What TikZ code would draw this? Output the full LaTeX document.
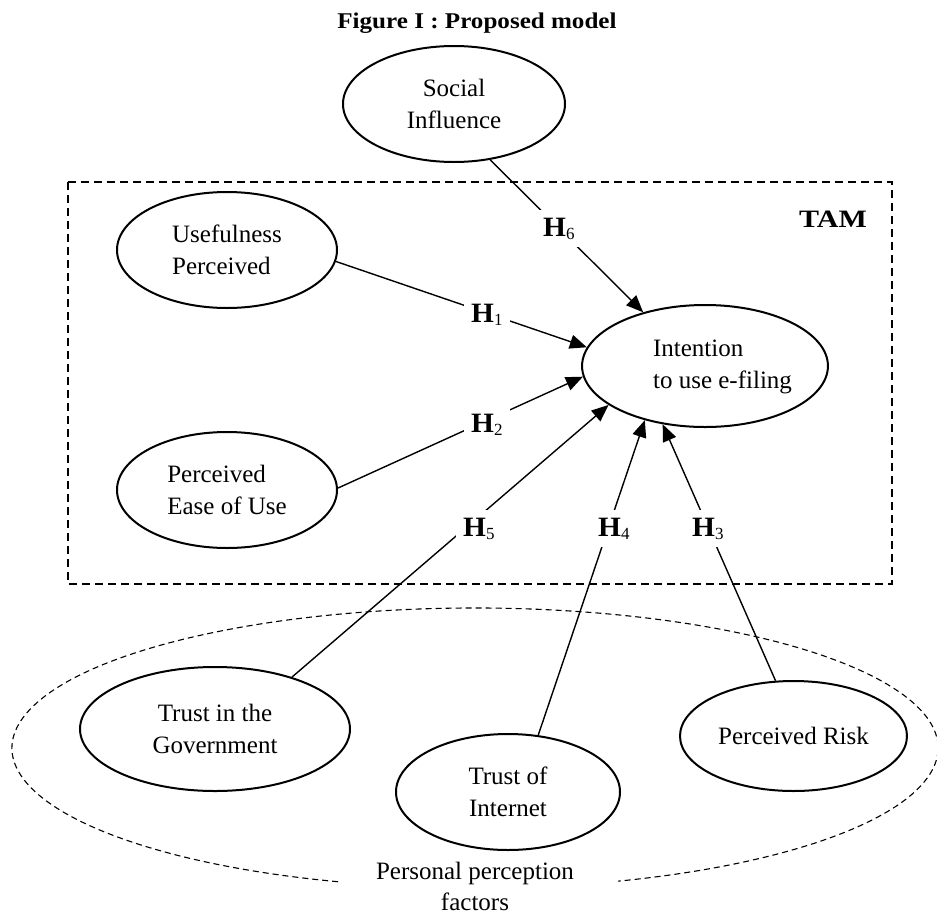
\documentclass[tikz,border=0pt]{standalone}
\usepackage{fontspec}
\setmainfont{Liberation Serif}
\usepackage{graphicx}
\usetikzlibrary{arrows.meta,shapes.geometric}
\newcommand\hyplab[1]{\scalebox{1.05}[1]{\bfseries H}\raisebox{-3pt}{\fontsize{17}{17}\selectfont #1}}
\begin{document}
\begin{tikzpicture}[x=1pt,y=-1pt,
  construct/.style={draw, line width=2pt, ellipse, inner sep=0pt, font=\fontsize{25}{32}\selectfont},
  link/.style={line width=1.4pt},
  arrowlink/.style={link, -{Triangle[length=17pt,width=14pt]}},
  hlab/.style={fill=white, inner xsep=7pt, inner ysep=8pt, anchor=base west, xshift=-7pt, font=\fontsize{28}{32}\selectfont},
  boxdash/.style={line width=1.4pt, dash pattern=on 8pt off 5pt},
  ovaldash/.style={line width=1.1pt, dash pattern=on 6pt off 4pt},
]
\useasboundingbox (0,0) rectangle (937,916);

% title
\node[anchor=base, font=\fontsize{22.5}{27}\selectfont\bfseries] (title) at (477,28) {\scalebox{1.115}[1]{Figure I : Proposed model}};

% frames
\draw[boxdash] (68,182) rectangle (892,584);
\node[anchor=base, font=\fontsize{25}{30}\selectfont\bfseries] (tam) at (833,227) {\scalebox{1.2}[1]{TAM}};
\draw[ovaldash] (475,748) ++(107.2:463 and 140) arc[start angle=107.2, end angle=432, x radius=463, y radius=140];
\node[align=center, font=\fontsize{25}{31}\selectfont] (ppf) at (475,886.5) {Personal perception\\factors};

% constructs
\node[construct, minimum width=222pt, minimum height=116pt, align=center] (soc) at (454,104) {Social\\Influence};
\node[construct, minimum width=220pt, minimum height=116pt, align=left] (use) at (227,250) {Usefulness\\Perceived};
\node[construct, minimum width=220pt, minimum height=116pt, align=left] (ease) at (227,490) {Perceived\\Ease of Use};
\node[construct, minimum width=220pt, minimum height=122pt] (int) at (705,366) {\hspace*{35pt}\begin{tabular}{@{}l@{}}Intention\\to use e-filing\end{tabular}};
\node[construct, minimum width=270pt, minimum height=124pt, align=center] (gov) at (215,729) {Trust in the\\Government};
\node[construct, minimum width=224pt, minimum height=116pt, align=center] (inet) at (508,792) {Trust of\\Internet};
\node[construct, minimum width=227pt, minimum height=110pt] (risk) at (793.5,736) {Perceived Risk};

% connectors
\draw[arrowlink] (soc.-57.5) -- (int.139.6);
\draw[arrowlink] (use.-6.8) -- (int.171.4);
\draw[arrowlink] (ease.1) -- (int.185.9);
\draw[arrowlink] (gov.34.5) -- (int.202.3);
\draw[arrowlink] (inet.62.2) -- (int.222);
\draw[arrowlink] (risk.108.6) -- (int.234.5);

% hypothesis labels
\node[hlab] (h6) at (543,236) {\hyplab{6}};
\node[hlab] (h1) at (471,322) {\hyplab{1}};
\node[hlab] (h2) at (471,432) {\hyplab{2}};
\node[hlab] (h5) at (463,536) {\hyplab{5}};
\node[hlab] (h4) at (598,536) {\hyplab{4}};
\node[hlab] (h3) at (692,536) {\hyplab{3}};
\end{tikzpicture}
\end{document}
